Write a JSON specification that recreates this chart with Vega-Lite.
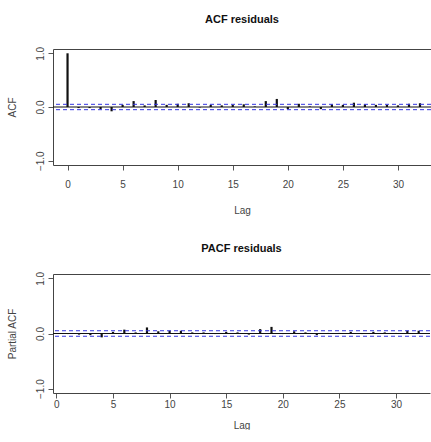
{
  "$schema": "https://vega.github.io/schema/vega-lite/v6.json",
  "padding": {"left": 7, "top": 14, "right": 0, "bottom": 0},
  "spacing": 28,
  "config": {
    "view": {"stroke": null},
    "font": "Liberation Sans",
    "axis": {
      "grid": false,
      "domain": true,
      "labelFont": "Liberation Sans",
      "labelFontSize": 10,
      "labelColor": "#444",
      "titleFont": "Liberation Sans",
      "titleFontSize": 10,
      "titleFontWeight": "normal",
      "titleColor": "#444",
      "domainColor": "#444",
      "domainWidth": 1,
      "tickColor": "#555",
      "tickSize": 5
    },
    "title": {"font": "Liberation Sans", "fontSize": 11, "fontWeight": "bold", "color": "#111", "offset": 21}
  },
  "datasets": {
    "one": [{}],
    "acf": [
      {"lag": 0, "value": 1.0},
      {"lag": 1, "value": -0.02},
      {"lag": 2, "value": -0.02},
      {"lag": 3, "value": -0.04},
      {"lag": 4, "value": -0.08},
      {"lag": 5, "value": 0.04},
      {"lag": 6, "value": 0.11},
      {"lag": 7, "value": 0.03},
      {"lag": 8, "value": 0.13},
      {"lag": 9, "value": 0.04},
      {"lag": 10, "value": 0.06},
      {"lag": 11, "value": 0.07},
      {"lag": 12, "value": -0.01},
      {"lag": 13, "value": 0.04},
      {"lag": 14, "value": 0.03},
      {"lag": 15, "value": 0.04},
      {"lag": 16, "value": 0.05},
      {"lag": 17, "value": 0.01},
      {"lag": 18, "value": 0.11},
      {"lag": 19, "value": 0.15},
      {"lag": 20, "value": -0.04},
      {"lag": 21, "value": 0.06},
      {"lag": 22, "value": 0.01},
      {"lag": 23, "value": -0.04},
      {"lag": 24, "value": 0.05},
      {"lag": 25, "value": 0.04},
      {"lag": 26, "value": 0.08},
      {"lag": 27, "value": 0.05},
      {"lag": 28, "value": 0.04},
      {"lag": 29, "value": 0.04},
      {"lag": 30, "value": 0.03},
      {"lag": 31, "value": 0.06},
      {"lag": 32, "value": 0.07}
    ],
    "pacf": [
      {"lag": 1, "value": -0.01},
      {"lag": 2, "value": -0.02},
      {"lag": 3, "value": -0.03},
      {"lag": 4, "value": -0.07},
      {"lag": 5, "value": 0.03},
      {"lag": 6, "value": 0.07},
      {"lag": 7, "value": 0.02},
      {"lag": 8, "value": 0.11},
      {"lag": 9, "value": 0.04},
      {"lag": 10, "value": 0.05},
      {"lag": 11, "value": 0.05},
      {"lag": 12, "value": 0.02},
      {"lag": 13, "value": 0.02},
      {"lag": 14, "value": -0.01},
      {"lag": 15, "value": 0.03},
      {"lag": 16, "value": 0.02},
      {"lag": 17, "value": -0.02},
      {"lag": 18, "value": 0.08},
      {"lag": 19, "value": 0.12},
      {"lag": 20, "value": -0.01},
      {"lag": 21, "value": 0.04},
      {"lag": 22, "value": 0.02},
      {"lag": 23, "value": -0.03},
      {"lag": 24, "value": 0.01},
      {"lag": 25, "value": 0.01},
      {"lag": 26, "value": 0.03},
      {"lag": 27, "value": -0.01},
      {"lag": 28, "value": 0.03},
      {"lag": 29, "value": 0.02},
      {"lag": 30, "value": 0.01},
      {"lag": 31, "value": 0.05},
      {"lag": 32, "value": 0.05}
    ]
  },
  "vconcat": [
    {
      "width": 378,
      "height": 116,
      "title": "ACF residuals",
      "resolve": {"axis": {"x": "independent"}},
      "layer": [
        {
          "data": {"name": "acf"},
          "mark": {"type": "rule", "color": "#111", "strokeWidth": 2.2},
          "encoding": {
            "x": {"field": "lag", "type": "quantitative",
              "scale": {"domain": [-1.32, 33.0], "nice": false, "zero": false},
              "axis": {"orient": "bottom", "values": [0, 5, 10, 15, 20, 25, 30], "title": "Lag", "labelPadding": 9, "titlePadding": 16, "labelFlush": false}},
            "y": {"field": "value", "type": "quantitative",
              "scale": {"domain": [-1.08, 1.08], "nice": false},
              "axis": {"values": [-1, -0.5, 0, 0.5, 1], "format": ".1f", "title": "ACF", "labelAngle": -90, "labelAlign": "center", "labelBaseline": "bottom", "labelPadding": 3, "titlePadding": 18}},
            "y2": {"datum": 0}
          }
        },
        {
          "data": {"name": "one"},
          "mark": {"type": "rule", "color": "#111", "strokeWidth": 1},
          "encoding": {
            "x": {"datum": -1.32, "type": "quantitative", "axis": {"orient": "top", "labels": false, "ticks": false, "title": null}},
            "x2": {"datum": 33.0},
            "y": {"datum": 0}
          }
        },
        {
          "data": {"name": "one"},
          "mark": {"type": "rule", "color": "#3535e0", "strokeWidth": 1, "strokeDash": [4, 3]},
          "encoding": {"y": {"datum": 0.05}}
        },
        {
          "data": {"name": "one"},
          "mark": {"type": "rule", "color": "#3535e0", "strokeWidth": 1, "strokeDash": [4, 3]},
          "encoding": {"y": {"datum": -0.05}}
        }
      ]
    },
    {
      "width": 377,
      "height": 119,
      "title": {"text": "PACF residuals", "offset": 17},
      "resolve": {"axis": {"x": "independent"}},
      "layer": [
        {
          "data": {"name": "pacf"},
          "mark": {"type": "rule", "color": "#111", "strokeWidth": 2.2},
          "encoding": {
            "x": {"field": "lag", "type": "quantitative",
              "scale": {"domain": [-0.3, 33.0], "nice": false, "zero": false},
              "axis": {"orient": "bottom", "values": [0, 5, 10, 15, 20, 25, 30], "title": "Lag", "labelPadding": 1, "titlePadding": 11, "labelFlush": false}},
            "y": {"field": "value", "type": "quantitative",
              "scale": {"domain": [-1.08, 1.08], "nice": false},
              "axis": {"values": [-1, -0.5, 0, 0.5, 1], "format": ".1f", "title": "Partial ACF", "labelAngle": -90, "labelAlign": "center", "labelBaseline": "bottom", "labelPadding": 3, "titlePadding": 18}},
            "y2": {"datum": 0}
          }
        },
        {
          "data": {"name": "one"},
          "mark": {"type": "rule", "color": "#111", "strokeWidth": 1},
          "encoding": {
            "x": {"datum": -0.3, "type": "quantitative", "axis": {"orient": "top", "labels": false, "ticks": false, "title": null}},
            "x2": {"datum": 33.0},
            "y": {"datum": 0}
          }
        },
        {
          "data": {"name": "one"},
          "mark": {"type": "rule", "color": "#3535e0", "strokeWidth": 1, "strokeDash": [4, 3]},
          "encoding": {"y": {"datum": 0.05}}
        },
        {
          "data": {"name": "one"},
          "mark": {"type": "rule", "color": "#3535e0", "strokeWidth": 1, "strokeDash": [4, 3]},
          "encoding": {"y": {"datum": -0.05}}
        }
      ]
    }
  ]
}
